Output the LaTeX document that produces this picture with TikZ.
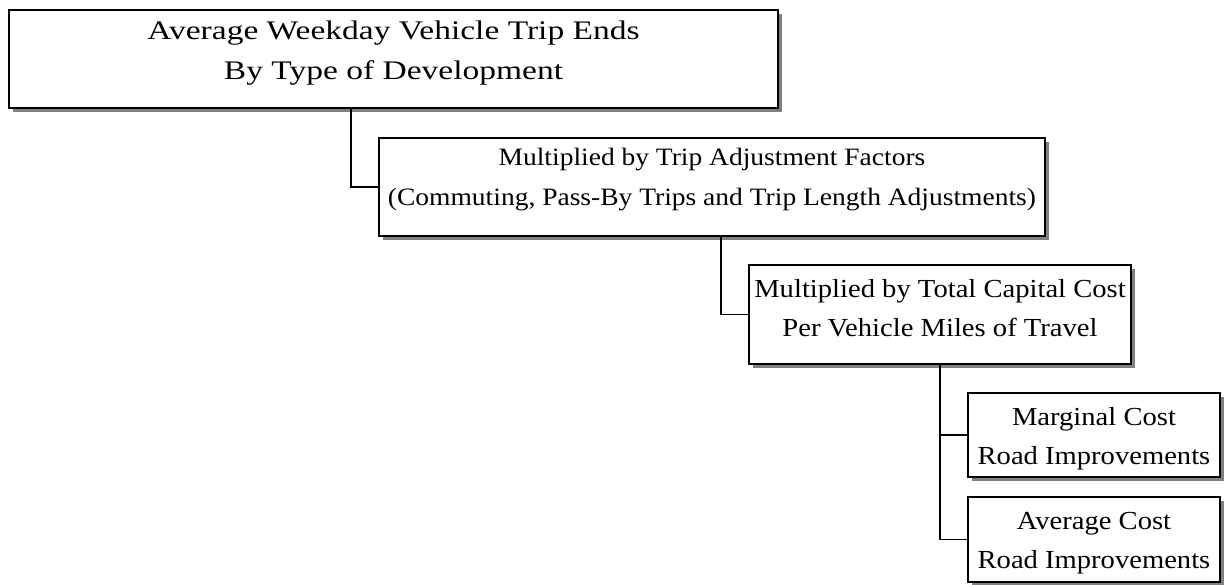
\documentclass[tikz,border=0pt]{standalone}
\usepackage{fontspec}
\setmainfont[FakeStretch=1.1]{Liberation Serif}
\newfontfamily\widefont[FakeStretch=1.25]{Liberation Serif}
\usetikzlibrary{shadows}
\begin{document}
\begin{tikzpicture}[x=1pt,y=-1pt,
  box/.style={draw, line width=1.8pt, fill=white, inner sep=0pt,
    drop shadow={shadow xshift=4pt, shadow yshift=-4pt, fill=black!50, opacity=1}},
  txt/.style={align=center, inner sep=0pt, font=\fontsize{25}{40}\selectfont},
  bigtxt/.style={txt, font=\fontsize{26}{39.5}\selectfont},
  link/.style={line width=1.8pt}]
\useasboundingbox (0,0) rectangle (1227,585);

% boxes
\node[box, minimum width=769pt, minimum height=98pt] (b1) at (393.5,59) {};
\node[box, minimum width=666pt, minimum height=98pt] (b2) at (712,187) {};
\node[box, minimum width=382pt, minimum height=99pt] (b3) at (940,314.5) {};
\node[box, minimum width=252pt, minimum height=84pt] (b4) at (1094,435) {};
\node[box, minimum width=252pt, minimum height=85pt] (b5) at (1094,539.5) {};

% box texts
\node[txt, font=\widefont\fontsize{26.8}{40}\selectfont] (t1) at (393.5,53.5) {Average Weekday Vehicle Trip Ends\\By Type of Development};
\node[txt] (t2) at (712,180) {Multiplied by Trip Adjustment Factors\\(Commuting, Pass-By Trips and Trip Length Adjustments)};
\node[bigtxt] (t3) at (940,308) {Multiplied by Total Capital Cost\\Per Vehicle Miles of Travel};
\node[bigtxt] (t4) at (1094,438.5) {Marginal Cost\\Road Improvements};
\node[bigtxt] (t5) at (1094,543) {Average Cost\\Road Improvements};

% connectors
\coordinate (d1) at (351,108);
\coordinate (d2) at (721,236);
\coordinate (d3) at (940,364);
\draw[link] (d1) |- (b2.west);
\draw[link] (d2) |- (b3.west);
\draw[link] (d3) |- (b4.west);
\draw[link] (d3) |- (b5.west);
\end{tikzpicture}
\end{document}
